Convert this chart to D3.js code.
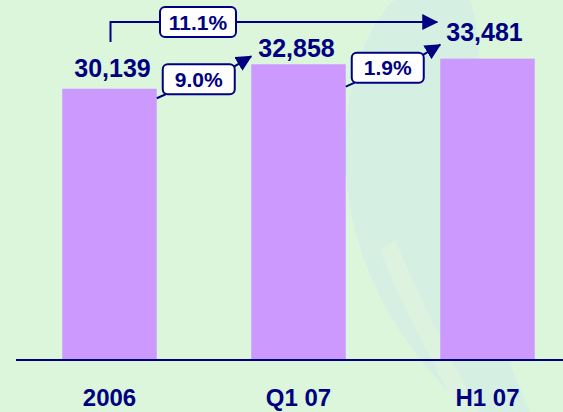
<!DOCTYPE html>
<html><head><meta charset="utf-8">
<script src="https://cdn.jsdelivr.net/npm/d3@7"></script>
<style>html,body{margin:0;padding:0;background:#DCF6DC;}svg{display:block;}</style>
</head><body>
<svg id="c" width="563" height="412"></svg>
<script>
const categories = ["2006", "Q1 07", "H1 07"];
const values = [30139, 32858, 33481];
const valueLabels = ["30,139", "32,858", "33,481"];
const growthLabels = ["9.0%", "1.9%", "11.1%"];
const growthFrom = [0, 1, 0];
const growthTo = [1, 2, 2];

const W = 563, H = 412;
const navy = "#000080", barColor = "#CC99FF", bg = "#DCF6DC";
const font = "Arial, 'Liberation Sans', sans-serif";

const svg = d3.select("#c");
svg.append("rect").attr("width", W).attr("height", H).attr("fill", bg);

// faint decorative leaf shape in background
svg.append("path")
  .attr("d", "M395,0 C370,20 345,80 345,150 C345,250 390,340 470,412 L530,412 C495,330 470,250 470,170 C470,110 490,60 470,0 Z")
  .attr("fill", "#D6EFE3");
svg.append("path")
  .attr("d", "M380,250 C400,300 430,360 460,412 L480,412 C450,360 420,300 395,240 Z")
  .attr("fill", "#DDF3E0");

const x = d3.scaleBand().domain(categories).range([15, 582]).paddingInner(0.5).paddingOuter(0.25);
const y = d3.scaleLinear().domain([0, 40000]).range([360, 0]);
const bw = x.bandwidth();

svg.selectAll("rect.bar").data(values).join("rect")
  .attr("class", "bar")
  .attr("x", (d, i) => x(categories[i]))
  .attr("y", d => y(d))
  .attr("width", bw)
  .attr("height", d => y(0) - y(d))
  .attr("fill", barColor);

// axis
const axis = svg.append("g").attr("transform", `translate(0,${y(0)})`)
  .call(d3.axisBottom(x).tickSize(0).tickSizeOuter(0).tickPadding(29));
axis.select(".domain").attr("stroke", navy).attr("stroke-width", 2)
  .attr("d", `M16,0H${W}`);
axis.selectAll("text").attr("fill", navy).attr("font-family", font)
  .attr("font-size", 24).attr("font-weight", "bold");

// value labels
const labelDx = [3, -2, -3];
const labelDy = [-12, -7, -18];
svg.selectAll("text.val").data(values).join("text")
  .attr("class", "val")
  .attr("x", (d, i) => x(categories[i]) + bw / 2 + labelDx[i])
  .attr("y", (d, i) => y(d) + labelDy[i])
  .attr("text-anchor", "middle")
  .attr("fill", navy).attr("font-family", font)
  .attr("font-size", 25).attr("font-weight", "bold")
  .text((d, i) => valueLabels[i]);

// arrow marker
const defs = svg.append("defs");
defs.append("marker").attr("id", "ah")
  .attr("markerUnits", "userSpaceOnUse")
  .attr("markerWidth", 16).attr("markerHeight", 16)
  .attr("viewBox", "0 0 16 16").attr("refX", 15).attr("refY", 8)
  .attr("orient", "auto")
  .append("path").attr("d", "M0,0 L16,8 L0,16 Z").attr("fill", navy);

function box(cx, top, w, h, label) {
  svg.append("rect").attr("x", cx - w / 2).attr("y", top).attr("width", w).attr("height", h)
    .attr("rx", 5).attr("fill", "#fff").attr("stroke", navy).attr("stroke-width", 2);
  svg.append("text").attr("x", cx).attr("y", top + h / 2 + 7.5)
    .attr("text-anchor", "middle").attr("fill", navy).attr("font-family", font)
    .attr("font-size", 21).attr("font-weight", "bold").text(label);
}

// short (consecutive) growth arrows
const boxTopDy = [0, -6];
[0, 1].forEach(k => {
  const f = growthFrom[k], t = growthTo[k];
  const xR = x(categories[f]) + bw;
  const bLeft = xR + 6, bW = 72, bH = 30;
  const bTop = y(values[t]) + boxTopDy[k];
  svg.append("path")
    .attr("d", `M${xR},${bTop + bH + 4} L${bLeft + 3},${bTop + bH}`)
    .attr("stroke", navy).attr("stroke-width", 2).attr("fill", "none");
  svg.append("path")
    .attr("d", `M${bLeft + bW - 2},${bTop + 3} L${x(categories[t])},${bTop - 8}`)
    .attr("stroke", navy).attr("stroke-width", 2).attr("fill", "none")
    .attr("marker-end", "url(#ah)");
  box(bLeft + bW / 2, bTop, bW, bH, growthLabels[k]);
});

// long arrow
{
  const f = growthFrom[2], t = growthTo[2];
  const xs = x(categories[f]) + bw / 2 + 1;
  const yl = 22;
  svg.append("path")
    .attr("d", `M${xs},${yl + 20} V${yl} H${x(categories[t]) - 3}`)
    .attr("stroke", navy).attr("stroke-width", 2).attr("fill", "none")
    .attr("marker-end", "url(#ah)");
  box(198, yl - 15, 76, 30, growthLabels[2]);
}
</script>
</body></html>
